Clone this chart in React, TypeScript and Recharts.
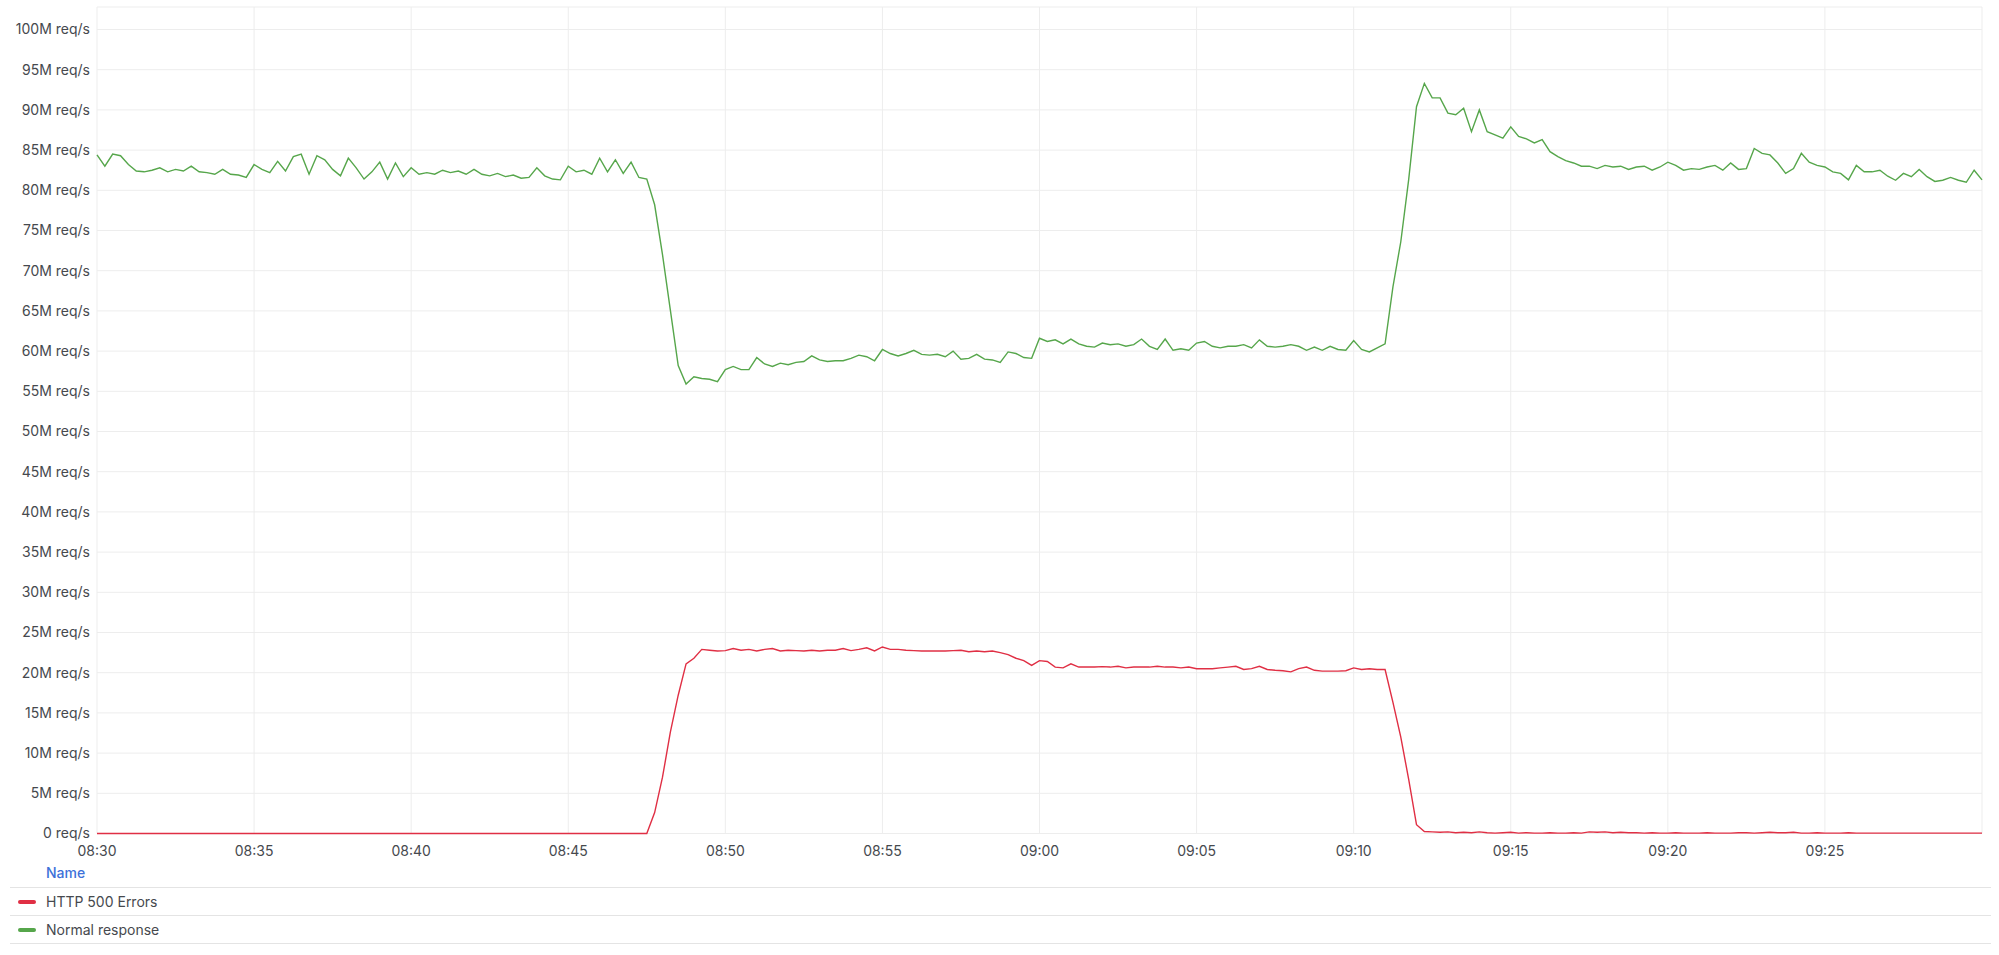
import { LineChart, Line, XAxis, YAxis, CartesianGrid } from "recharts";

// samples every 15 s starting at 08:30, values in M req/s
const STEP_MIN = 0.25;

const TIME_TICKS = [0, 5, 10, 15, 20, 25, 30, 35, 40, 45, 50, 55];
const TIME_LABELS = [
  "08:30", "08:35", "08:40", "08:45", "08:50", "08:55",
  "09:00", "09:05", "09:10", "09:15", "09:20", "09:25",
];
const VALUE_TICKS = [0, 5, 10, 15, 20, 25, 30, 35, 40, 45, 50, 55, 60, 65, 70, 75, 80, 85, 90, 95, 100];

const NORMAL = [
  84.4, 83.0, 84.5, 84.3, 83.2, 82.4, 82.3, 82.5, 82.8, 82.3, 82.6, 82.4, 83.0, 82.3, 82.2, 82.0, 82.6, 82.0, 81.9, 81.6,
  83.2, 82.6, 82.2, 83.6, 82.4, 84.2, 84.5, 82.0, 84.3, 83.8, 82.6, 81.8, 84.0, 82.8, 81.4, 82.3, 83.5, 81.4, 83.4, 81.7,
  82.8, 82.0, 82.2, 82.0, 82.5, 82.2, 82.4, 82.0, 82.6, 82.0, 81.8, 82.1, 81.7, 81.9, 81.5, 81.6, 82.8, 81.8, 81.4, 81.3,
  83.0, 82.3, 82.5, 82.0, 84.0, 82.3, 83.8, 82.1, 83.5, 81.6, 81.4,
  78.2, 72.0, 65.1, 58.2, 55.9, 56.8, 56.6, 56.5, 56.2,
  57.7, 58.1, 57.7, 57.7, 59.2, 58.4, 58.1, 58.5, 58.3, 58.6, 58.7, 59.4, 58.9, 58.7, 58.8, 58.8, 59.1, 59.5, 59.3, 58.8,
  60.2, 59.7, 59.4, 59.7, 60.1, 59.6, 59.5, 59.6, 59.3, 60.0, 59.0, 59.1, 59.6, 59.0, 58.9, 58.6, 59.9, 59.7, 59.2, 59.1,
  61.6, 61.2, 61.4, 60.9, 61.5, 60.9, 60.6, 60.5,
  61.0, 60.8, 60.9, 60.6, 60.8, 61.5, 60.6, 60.2, 61.5, 60.1, 60.3, 60.1,
  61.0, 61.2, 60.6, 60.4, 60.6, 60.6, 60.8, 60.4, 61.4, 60.6, 60.5, 60.6, 60.8, 60.6, 60.1, 60.5, 60.1, 60.6, 60.2, 60.1,
  61.3, 60.2, 59.9, 60.4, 60.9, 68.0, 73.6, 81.3, 90.4, 93.3, 91.5, 91.5, 89.6, 89.4, 90.2, 87.3, 90.0, 87.3, 86.9, 86.5,
  87.9, 86.7, 86.4, 85.9, 86.3, 84.8,
  84.2, 83.7, 83.4, 83.0, 83.0, 82.7, 83.1, 82.9, 83.0, 82.6, 82.9, 83.0, 82.5, 82.9,
  83.5, 83.1, 82.5, 82.7, 82.6, 82.9, 83.1, 82.5, 83.4, 82.6, 82.7, 85.2, 84.6, 84.4, 83.4, 82.1, 82.7, 84.6, 83.5, 83.1,
  82.9, 82.3, 82.1, 81.3, 83.1, 82.3, 82.3, 82.5, 81.75, 81.25, 82.1, 81.7, 82.6, 81.7, 81.1, 81.25, 81.6, 81.25, 81.0, 82.5, 81.3,
];

const ERRORS = [
  0, 0, 0, 0, 0, 0, 0, 0, 0, 0, 0, 0, 0, 0, 0, 0, 0, 0, 0, 0,
  0, 0, 0, 0, 0, 0, 0, 0, 0, 0, 0, 0, 0, 0, 0, 0, 0, 0, 0, 0,
  0, 0, 0, 0, 0, 0, 0, 0, 0, 0, 0, 0, 0, 0, 0, 0, 0, 0, 0, 0,
  0, 0, 0, 0, 0, 0, 0, 0, 0, 0, 0,
  2.6, 7.0, 12.6, 17.2, 21.1, 21.8, 22.9, 22.8, 22.7,
  22.75, 23.0, 22.8, 22.9, 22.7, 22.9, 23.0, 22.7, 22.8, 22.75, 22.7, 22.8, 22.7, 22.8, 22.8, 23.0, 22.75, 22.9, 23.1, 22.7,
  23.2, 22.9, 22.9, 22.8, 22.75, 22.7, 22.7, 22.7, 22.7, 22.75, 22.8, 22.6, 22.7, 22.6, 22.7, 22.5, 22.25, 21.8, 21.5, 20.9,
  21.5, 21.4, 20.7, 20.6, 21.1, 20.7, 20.7, 20.7, 20.75, 20.7, 20.8, 20.6, 20.7, 20.7, 20.7, 20.8, 20.7, 20.7, 20.6, 20.7,
  20.5, 20.5, 20.5, 20.6, 20.7, 20.8, 20.4, 20.5, 20.8, 20.4, 20.3, 20.25, 20.1, 20.5, 20.7, 20.3, 20.2, 20.2, 20.2, 20.25,
  20.6, 20.4, 20.5, 20.4, 20.4, 16.3, 12.0, 6.75, 1.1, 0.25,
  0.2, 0.15, 0.2, 0.1, 0.15, 0.1, 0.2, 0.1, 0.05, 0.1, 0.15, 0.05, 0.1, 0.05, 0.05, 0.1, 0.05, 0.05, 0.1, 0.05,
  0.2, 0.15, 0.2, 0.1, 0.15, 0.1, 0.1, 0.05, 0.1, 0.05, 0.05, 0.1, 0.05, 0.05, 0.05, 0.1, 0.05, 0.05, 0.05, 0.1,
  0.1, 0.05, 0.1, 0.15, 0.1, 0.1, 0.15, 0.05, 0.05, 0.1, 0.05, 0.05, 0.05, 0.1, 0.05, 0.05, 0.05, 0.05, 0.05, 0.05,
  0.05, 0.05, 0.05, 0.05, 0.05, 0.05, 0.05, 0.05, 0.05, 0.05, 0.05,
];

const SERIES = [
  { key: "errors", name: "HTTP 500 Errors", color: "#e02f44" },
  { key: "normal", name: "Normal response", color: "#56a64b" },
];

const FONT = "Inter, 'Noto Sans', sans-serif";
const TEXT = "#46494e";

const data = NORMAL.map((v, i) => ({ t: i * STEP_MIN, normal: v, errors: ERRORS[i] }));

const fmtTime = (v: number) => TIME_LABELS[TIME_TICKS.indexOf(v)] ?? "";
const fmtValue = (v: number) => (v === 0 ? "0 req/s" : `${v}M req/s`);

export default function App() {
  return (
    <div
      style={{
        position: "absolute",
        top: 0,
        left: 0,
        width: 1999,
        height: 955,
        background: "#fff",
        fontFamily: FONT,
      }}
    >
      <LineChart width={1999} height={870} data={data} margin={{ top: 7, right: 17, bottom: 0, left: 0 }}>
        <CartesianGrid stroke="#ededed" strokeWidth={1} />
        <XAxis
          dataKey="t"
          type="number"
          domain={[0, 60]}
          ticks={TIME_TICKS}
          tickFormatter={fmtTime}
          axisLine={false}
          tickLine={false}
          tickSize={0}
          tickMargin={13}
          height={36.5}
          tick={{ fill: TEXT, fontSize: 14, fontFamily: FONT }}
        />
        <YAxis
          type="number"
          domain={[0, 102.8]}
          ticks={VALUE_TICKS}
          tickFormatter={fmtValue}
          axisLine={false}
          tickLine={false}
          tickSize={0}
          tickMargin={7}
          width={97}
          tick={{ fill: TEXT, fontSize: 14, fontFamily: FONT }}
        />
        {SERIES.map((s) => (
          <Line
            key={s.key}
            type="linear"
            dataKey={s.key}
            name={s.name}
            stroke={s.color}
            strokeWidth={1.4}
            dot={false}
            activeDot={false}
            isAnimationActive={false}
          />
        ))}
      </LineChart>
      <div style={{ position: "absolute", left: 10, top: 858, width: 1981, fontSize: 14 }}>
        <div style={{ height: 29, lineHeight: "29px", paddingLeft: 36, color: "#3d71d9", fontWeight: 500 }}>Name</div>
        {SERIES.map((s, i) => (
          <div
            key={s.key}
            style={{
              height: 27,
              borderTop: "1px solid #e4e4e4",
              borderBottom: i === SERIES.length - 1 ? "1px solid #e4e4e4" : undefined,
              display: "flex",
              alignItems: "center",
              color: TEXT,
            }}
          >
            <span style={{ width: 18, height: 4, borderRadius: 2, background: s.color, marginLeft: 8, marginRight: 10 }} />
            {s.name}
          </div>
        ))}
      </div>
    </div>
  );
}
